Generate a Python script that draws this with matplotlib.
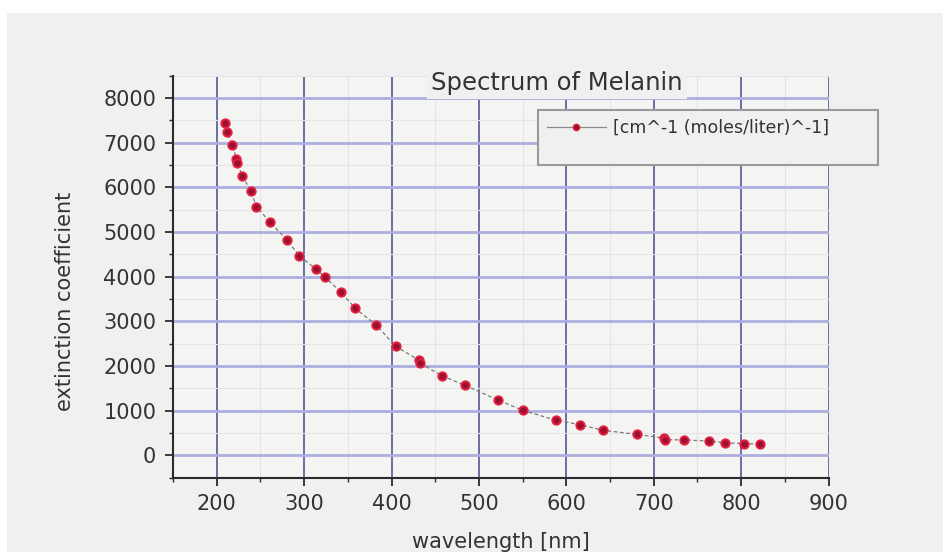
import matplotlib
matplotlib.use("Agg")
import matplotlib.pyplot as plt
from matplotlib.lines import Line2D
from matplotlib.patches import Rectangle
from matplotlib.ticker import MultipleLocator

# Melanin extinction spectrum
wavelength_nm = [209.6, 211.5, 218.0, 222.5, 223.5, 229.5, 239.0, 245.5, 261.0,
                 280.5, 294.5, 313.7, 324.0, 342.0, 358.5, 382.6, 404.6, 431.0,
                 432.5, 458.0, 484.0, 521.7, 550.0, 588.0, 615.5, 641.7, 681.0,
                 711.5, 712.5, 735.0, 763.5, 782.0, 803.0, 821.0]
extinction = [7450, 7250, 6950, 6640, 6540, 6250, 5920, 5570, 5220,
              4820, 4470, 4170, 3990, 3660, 3290, 2920, 2440, 2140,
              2070, 1780, 1570, 1240, 1010, 790, 690, 565, 470,
              390, 350, 350, 320, 285, 265, 255]

series_label = "[cm^-1 (moles/liter)^-1]"
title_text = "Spectrum of Melanin"
x_label = "wavelength [nm]"
y_label = "extinction coefficient"
x_ticks = [200, 300, 400, 500, 600, 700, 800, 900]
y_ticks = [0, 1000, 2000, 3000, 4000, 5000, 6000, 7000, 8000]

plt.rcParams["font.family"] = ["DejaVu Sans"]
W, H = 943, 552
fig = plt.figure(figsize=(W / 100, H / 100), dpi=100, facecolor="white")

# grey panel behind everything (thin white margin at top and left)
fig.patches.append(Rectangle((7 / W, 0), 1 - 7 / W, 1 - 13 / H,
                             transform=fig.transFigure, facecolor="#f0f0f0",
                             edgecolor="none", zorder=-10))

left, right = 173 / W, 828.6 / W
bottom, top = 1 - 477.8 / H, 1 - 75.7 / H
ax = fig.add_axes([left, bottom, right - left, top - bottom])
ax.set_facecolor("#f4f4f2")

ax.set_xlim(150, 900)
ax.set_ylim(-500, 8500)
ax.set_xticks(x_ticks)
ax.set_yticks(y_ticks)
ax.xaxis.set_minor_locator(MultipleLocator(50))
ax.yaxis.set_minor_locator(MultipleLocator(500))

# faint minor grid, then the coloured major grid
ax.grid(which="minor", color="#e3e3ea", lw=0.8, zorder=0)
ax.grid(which="major", axis="y", color="#aeaee0", lw=2.0, zorder=0.5)
ax.grid(which="major", axis="x", color="#62629e", lw=1.3, zorder=0.6)
ax.set_axisbelow(True)

for side in ("top", "right"):
    ax.spines[side].set_visible(False)
for side in ("left", "bottom"):
    ax.spines[side].set_color("#2a2a2a")
    ax.spines[side].set_linewidth(1.5)

ax.tick_params(which="major", direction="out", length=6, width=1.3,
               colors="#2a2a2a", labelsize=15, pad=6)
ax.tick_params(which="minor", direction="out", length=3, width=1.0,
               colors="#2a2a2a")
ax.tick_params(axis="both", labelcolor="#333333")

ax.plot(wavelength_nm, extinction, linestyle=(0, (3, 2)), lw=0.9,
        color="#7a7a7a", marker="o", markersize=6,
        markerfacecolor="#9a1030", markeredgecolor="#e3203f",
        markeredgewidth=1.4, zorder=3)

ax.set_xlabel(x_label, fontsize=15, color="#333333")
ax.xaxis.set_label_coords(0.5, -0.135)
ax.set_ylabel(y_label, fontsize=15, color="#333333", va="center")
ax.yaxis.set_label_coords(-0.165, 0.44)

fig.text(557 / W, 1 - 83 / H, title_text, ha="center", va="center",
         fontsize=17.5, color="#333333", zorder=5,
         bbox=dict(facecolor="#f0f0f0", edgecolor="none", pad=3))

handle = Line2D([], [], linestyle="-", lw=0.9, color="#8a8a8a", marker="o",
                markersize=4.5, markerfacecolor="#9a1030",
                markeredgecolor="#e3203f", markeredgewidth=1.0)
blank = Line2D([], [], linestyle="none")
leg = fig.legend([handle, blank], [series_label, " "], loc="upper left",
                 bbox_to_anchor=(538 / W, 1 - 110 / H, 340 / W, 0),
                 mode="expand", fontsize=12.5, frameon=True, fancybox=False,
                 framealpha=1, facecolor="#f0f0f0", edgecolor="#9a9a9a",
                 borderpad=0.5, labelspacing=0.1, handlelength=3.4,
                 handletextpad=0.4, borderaxespad=0)
leg.get_frame().set_linewidth(1.5)
for t in leg.get_texts():
    t.set_color("#333333")

fig.savefig("out.png", dpi=100, facecolor=fig.get_facecolor())
